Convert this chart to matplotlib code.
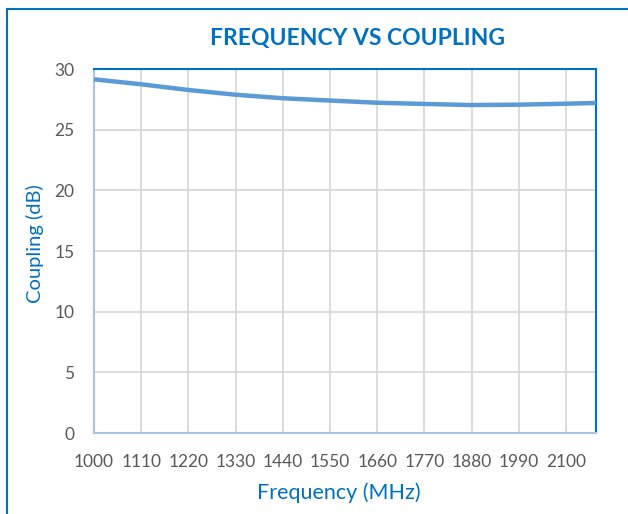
import matplotlib
matplotlib.use("Agg")
import matplotlib.pyplot as plt
from matplotlib.patches import Rectangle

plt.rcParams['font.family'] = ['Lato', 'DejaVu Sans']

# values
freq_mhz = [1000, 1110, 1220, 1330, 1440, 1550, 1660, 1770, 1880, 1990, 2100, 2170]
coupling_db = [29.15, 28.74, 28.27, 27.88, 27.59, 27.40, 27.22, 27.12, 27.03, 27.06, 27.14, 27.20]
x_ticks = list(range(1000, 2101, 110))
y_ticks = [0, 5, 10, 15, 20, 25, 30]

blue = '#0070C0'
line_blue = '#5B9BD5'
grey_text = '#595959'

fig = plt.figure(figsize=(6.28, 5.14), dpi=100)
ax = fig.add_axes([94 / 628, 1 - 433 / 514, (596 - 94) / 628, (433 - 69) / 514])

ax.plot(freq_mhz, coupling_db, color=line_blue, lw=3.2, solid_capstyle='butt', zorder=3)

ax.set_xlim(1000, 2170)
ax.set_ylim(0, 30)
ax.set_xticks(x_ticks)
ax.set_yticks(y_ticks)
ax.grid(True, color='#D9D9D9', lw=1.3)
ax.set_axisbelow(True)
ax.tick_params(length=0, labelsize=12.5, labelcolor=grey_text)
ax.tick_params(axis='x', pad=15)
ax.tick_params(axis='y', pad=14)

# spines: blue top/right, pale left/bottom
for side in ('top', 'right'):
    ax.spines[side].set_color(blue)
    ax.spines[side].set_linewidth(1.5)
for side in ('left', 'bottom'):
    ax.spines[side].set_color('#A9C4E0')
    ax.spines[side].set_linewidth(1.5)

fig.text(358 / 628, 1 - 38 / 514, 'FREQUENCY VS COUPLING', color=blue,
         fontsize=16.5, fontweight='bold', ha='center', va='center')
fig.text(339 / 628, 1 - 493 / 514, 'Frequency (MHz)', color=blue,
         fontsize=15.5, ha='center', va='center')
fig.text(35 / 628, 1 - 244 / 514, 'Coupling (dB)', color=blue,
         fontsize=14.5, ha='center', va='center', rotation=90)

# outer chart border (only left and top edges visible in the crop)
fig.patches.append(Rectangle((7 / 628, -0.1), 1.2, 1 - 9 / 514 + 0.1,
                             transform=fig.transFigure, fill=False,
                             edgecolor=blue, lw=1.5))

fig.savefig('out.png', dpi=100)
